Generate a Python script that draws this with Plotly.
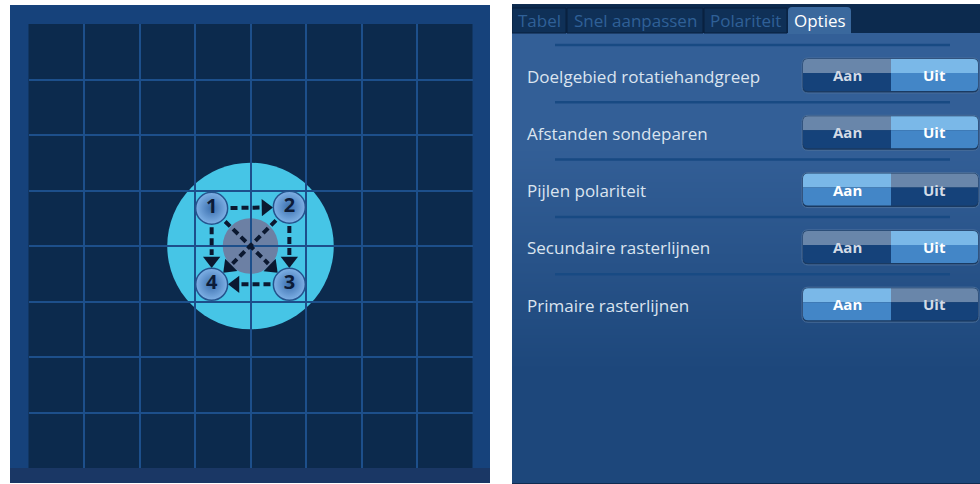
import math
import plotly.graph_objects as go

# Polariteitsweergave (links): raster, doelgebied en sondes
GRID_TICKS = [1, 2, 3, 4, 5, 6, 7]
GRID_SIZE = 8
TARGET_CENTER = [4, 4]
TARGET_RADIUS = 1.5
CORE_RADIUS = 0.5
probe_labels = ["1", "2", "3", "4"]
probe_x = [3.3, 4.7, 4.7, 3.3]
probe_y = [4.68, 4.7, 3.31, 3.31]
arrow_from = [1, 2, 3, 1, 1, 2]
arrow_to = [2, 3, 4, 4, 3, 4]

# Optiepaneel (rechts)
tabs = ["Tabel", "Snel aanpassen", "Polariteit", "Opties"]
active_tab = "Opties"
options = [
    "Doelgebied rotatiehandgreep",
    "Afstanden sondeparen",
    "Pijlen polariteit",
    "Secundaire rasterlijnen",
    "Primaire rasterlijnen",
]
states = ["Uit", "Uit", "Aan", "Uit", "Aan"]
toggle_labels = ["Aan", "Uit"]

# kleuren
FRAME = "#16427b"
GRID_BG = "#0c2a4d"
GRID_LINE = "#1d4f8b"
TARGET = "#46c5e6"
CORE = "#6c80a4"
ARROW = "#0b1830"
TEXT = "#dbe4ef"
FONT = "Open Sans"

# layout (pixels)
W, H = 980, 484
TAB_EDGES = [512, 567, 704, 788, 852]
ROW_Y0, ROW_STEP = 75, 57.3
TOG_X = [803, 891, 978]
TOG_H = 32

fig = go.Figure()


def px_x(v):
    return v / W


def px_y(v):
    return 1 - v / H


def rpath(x0, x1, y0, y1, r):
    # r = [linksboven, rechtsboven, rechtsonder, linksonder]; y loopt naar beneden
    tl, tr, br, bl = r
    return (f"M{x0 + tl},{y0} L{x1 - tr},{y0} Q{x1},{y0} {x1},{y0 + tr} "
            f"L{x1},{y1 - br} Q{x1},{y1} {x1 - br},{y1} L{x0 + bl},{y1} "
            f"Q{x0},{y1} {x0},{y1 - bl} L{x0},{y0 + tl} Q{x0},{y0} {x0 + tl},{y0} Z")


shapes = []
# --- linker paneel (kader met lichte verloop, donker rastervlak)
shapes.append(dict(type="rect", xref="paper", yref="paper", layer="below",
                   x0=px_x(10), x1=px_x(490), y0=px_y(483), y1=px_y(5),
                   fillcolor=FRAME, line_width=0))
shapes.append(dict(type="rect", xref="paper", yref="paper", layer="below",
                   x0=px_x(10), x1=px_x(490), y0=px_y(483), y1=px_y(468),
                   fillcolor="#1a3765", line_width=0))
shapes.append(dict(type="rect", xref="paper", yref="paper", layer="below",
                   x0=px_x(28.5), x1=px_x(472.5), y0=px_y(468), y1=px_y(24),
                   fillcolor=GRID_BG, line_width=0))
cx, cy = TARGET_CENTER
shapes.append(dict(type="circle", xref="x", yref="y", layer="below",
                   x0=cx - TARGET_RADIUS, x1=cx + TARGET_RADIUS,
                   y0=cy - TARGET_RADIUS, y1=cy + TARGET_RADIUS,
                   fillcolor=TARGET, line_width=0))
shapes.append(dict(type="circle", xref="x", yref="y", layer="below",
                   x0=cx - CORE_RADIUS, x1=cx + CORE_RADIUS,
                   y0=cy - CORE_RADIUS, y1=cy + CORE_RADIUS,
                   fillcolor=CORE, line_width=0))

# pijlen tussen sondes (gestippeld)
for a, b in zip(arrow_from, arrow_to):
    x0, y0 = probe_x[a - 1], probe_y[a - 1]
    x1, y1 = probe_x[b - 1], probe_y[b - 1]
    dx, dy = x1 - x0, y1 - y0
    d = (dx ** 2 + dy ** 2) ** 0.5
    ux, uy = dx / d, dy / d
    sx, sy = x0 + ux * 0.34, y0 + uy * 0.34
    ex, ey = x1 - ux * 0.53, y1 - uy * 0.53
    hx, hy = x1 - ux * 0.43, y1 - uy * 0.43
    fig.add_trace(go.Scatter(x=[sx, ex], y=[sy, ey], mode="lines",
                             line=dict(color=ARROW, width=4, dash="7px,4px"),
                             xaxis="x", yaxis="y", hoverinfo="skip"))
    ang = math.degrees(math.atan2(dx, dy))
    fig.add_trace(go.Scatter(x=[hx], y=[hy], mode="markers",
                             marker=dict(symbol="triangle-up", size=15, angle=ang,
                                         color=ARROW, line_width=0),
                             xaxis="x", yaxis="y", hoverinfo="skip"))

fig.add_trace(go.Scatter(
    x=probe_x, y=probe_y, mode="markers+text", text=probe_labels,
    textposition="middle center",
    textfont=dict(family=FONT, size=20, color="#0c1b38", weight="bold"),
    marker=dict(size=32, color="#7fb1e6",
                gradient=dict(type="radial", color="#3b6fae"),
                line=dict(color="#24548e", width=1.5)),
    xaxis="x", yaxis="y", hoverinfo="skip"))

# --- rechter paneel
fig.add_trace(go.Heatmap(z=[[0], [1]], x=[512, 980], y=[33, 258, 483],
                         colorscale=[[0, "#335f97"], [1, "#1d477b"]],
                         zsmooth="best", showscale=False, hoverinfo="skip",
                         xaxis="x2", yaxis="y2"))
shapes.append(dict(type="rect", xref="x2", yref="y2", layer="above",
                   x0=512, x1=980, y0=5, y1=33, fillcolor="#0c2a4e", line_width=0))
for i, t in enumerate(tabs):
    l, r = TAB_EDGES[i], TAB_EDGES[i + 1] - 1
    if t == active_tab:
        shapes.append(dict(type="path", xref="x2", yref="y2", layer="above",
                           path=rpath(l, r, 7, 34, [4, 4, 0, 0]),
                           fillcolor="#3a689d", line_width=0))
    else:
        shapes.append(dict(type="rect", xref="x2", yref="y2", layer="above",
                           x0=l, x1=r, y0=8, y1=33, fillcolor="#0f3057",
                           line=dict(color="#081f3c", width=1)))
    fig.add_annotation(x=(l + r) / 2, y=20, xref="x2", yref="y2", text=t,
                       showarrow=False,
                       font=dict(family=FONT, size=17,
                                 color="#ffffff" if t == active_tab else "#2f6097"))
shapes.append(dict(type="rect", xref="x2", yref="y2", layer="below",
                   x0=512, x1=981, y0=5, y1=483, fillcolor="rgba(0,0,0,0)",
                   line=dict(color="#0f2c50", width=2)))

sep_x, sep_y = [], []
for i, (opt, st) in enumerate(zip(options, states)):
    c = ROW_Y0 + i * ROW_STEP
    sep_x += [555, 950, None]
    sep_y += [c - 30, c - 30, None]
    fig.add_annotation(x=525, y=c + 1, xref="x2", yref="y2", text=opt,
                       showarrow=False, xanchor="left",
                       font=dict(family=FONT, size=17, color=TEXT))
    top, bot, mid = c - TOG_H / 2, c + TOG_H / 2, c - 2
    # schaduw + rand
    shapes.append(dict(type="path", xref="x2", yref="y2", layer="above",
                       path=rpath(TOG_X[0] - 1, TOG_X[2] + 1, top - 1, bot + 2, [6, 6, 6, 6]),
                       fillcolor="#1a3a62", line=dict(color="#4a6f9c", width=1)))
    for j, lab in enumerate(toggle_labels):
        x0, x1 = TOG_X[j], TOG_X[j + 1]
        on = lab == st
        ct = "#7ab8e8" if on else "#6986aa"
        cb = "#4386c7" if on else "#15427a"
        rt = [5, 0, 0, 0] if j == 0 else [0, 5, 0, 0]
        rb = [0, 0, 0, 5] if j == 0 else [0, 0, 5, 0]
        shapes.append(dict(type="path", xref="x2", yref="y2", layer="above",
                           path=rpath(x0, x1, top, mid, rt), fillcolor=ct, line_width=0))
        shapes.append(dict(type="path", xref="x2", yref="y2", layer="above",
                           path=rpath(x0, x1, mid, bot, rb), fillcolor=cb, line_width=0))
        fig.add_annotation(x=(x0 + x1) / 2, y=c, xref="x2", yref="y2", text=lab,
                           showarrow=False,
                           font=dict(family=FONT, size=15, weight="bold",
                                     color="#ffffff" if on else "#d3dbe6"))

fig.add_trace(go.Scatter(x=sep_x, y=sep_y, mode="lines",
                         line=dict(color="#184a83", width=2.5),
                         xaxis="x2", yaxis="y2", hoverinfo="skip"))

hidden = dict(visible=False, fixedrange=True)
fig.update_layout(
    width=W, height=H,
    margin=dict(l=0, r=0, t=0, b=0),
    paper_bgcolor="#ffffff",
    plot_bgcolor="rgba(0,0,0,0)",
    showlegend=False,
    hovermode=False,
    shapes=shapes,
    xaxis=dict(domain=[px_x(28.5), px_x(472.5)], range=[0, GRID_SIZE],
               tickvals=GRID_TICKS, showgrid=True, gridcolor=GRID_LINE, gridwidth=2,
               showticklabels=False, zeroline=False, showline=False, ticks="",
               fixedrange=True),
    yaxis=dict(domain=[px_y(468), px_y(24)], range=[0, GRID_SIZE],
               tickvals=GRID_TICKS, showgrid=True, gridcolor=GRID_LINE, gridwidth=2,
               showticklabels=False, zeroline=False, showline=False, ticks="",
               fixedrange=True),
    xaxis2=dict(domain=[px_x(512), 1], range=[512, 980], **hidden),
    yaxis2=dict(domain=[0, 1], range=[H, 0], **hidden),
)

fig.write_html("out.html", config={"displayModeBar": False},
               post_script="document.body.style.margin='0';"
                           "document.body.style.overflow='hidden';")
